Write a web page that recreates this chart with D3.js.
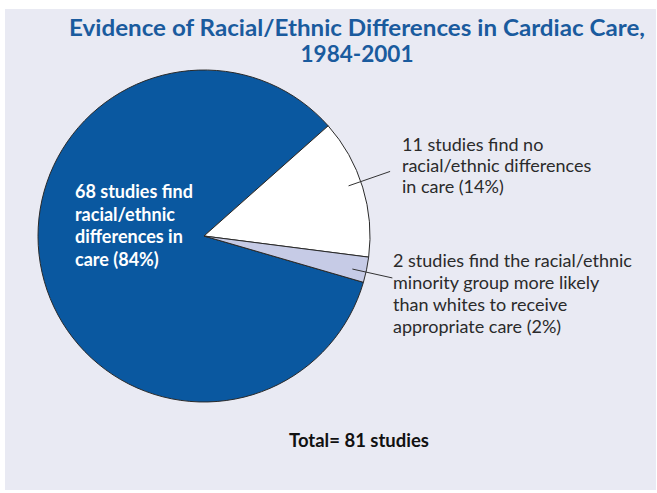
<!DOCTYPE html>
<html>
<head>
<meta charset="utf-8">
<script src="https://cdn.jsdelivr.net/npm/d3@7"></script>
<style>
  html, body { margin: 0; padding: 0; background: #ffffff; }
  svg { display: block; }
</style>
</head>
<body>
<svg id="chart" width="657" height="493"></svg>
<script>
// Study counts by finding (81 studies, 1984-2001)
const categories = ["differences", "noDifferences", "minorityMoreLikely"];
const studyCounts = [68, 11, 2];
const sliceColors = ["#0a58a0", "#ffffff", "#c6cbe6"];
const sliceLabels = [
  ["68 studies find", "racial/ethnic", "differences in", "care (84%)"],
  ["11 studies find no", "racial/ethnic differences", "in care (14%)"],
  ["2 studies find the racial/ethnic", "minority group more likely", "than whites to receive", "appropriate care (2%)"]
];
const titleLines = ["Evidence of Racial/Ethnic Differences in Cardiac Care,", "1984-2001"];
const totalLabel = "Total= 81 studies";

const svg = d3.select("#chart");

// background panel
svg.append("rect")
  .attr("x", 5).attr("y", 9)
  .attr("width", 651).attr("height", 481)
  .attr("fill", "#e9eaf3");

// condensed text: draw at natural size, then squeeze horizontally to a target width
function condensed(str, x, y, width, size, fill) {
  const grp = svg.append("g");
  const t = grp.append("text")
    .attr("text-anchor", "middle")
    .attr("font-family", "Lato, 'Open Sans', sans-serif")
    .attr("font-weight", "bold").attr("font-size", size)
    .attr("fill", fill)
    .text(str);
  const natural = t.node().getComputedTextLength();
  grp.attr("transform", `translate(${x},${y}) scale(${width / natural},1)`);
}

// title
condensed(titleLines[0], 357, 36, 576, 22, "#1a5b9e");
condensed(titleLines[1], 357, 62, 113, 22, "#1a5b9e");

// pie
const cx = 204, cy = 236, radius = 166;
const deg = Math.PI / 180;
const start = 106.2 * deg;
const pie = d3.pie().sort(null).startAngle(start).endAngle(start + 2 * Math.PI);
const arcs = pie(studyCounts);
const arc = d3.arc().innerRadius(0).outerRadius(radius);

const g = svg.append("g").attr("transform", `translate(${cx},${cy})`);
g.selectAll("path.slice")
  .data(arcs)
  .join("path")
  .attr("class", "slice")
  .attr("d", arc)
  .attr("fill", (d, i) => sliceColors[i])
  .attr("stroke", "#2a2a2a")
  .attr("stroke-width", 1)
  .attr("stroke-linejoin", "round");

// leader lines for the two small slices
function polar(angle, r) {
  return [Math.sin(angle) * r, -Math.cos(angle) * r];
}
const leaders = [
  { i: 1, offset: -2.0 * deg, r0: 153, r1: 197 },
  { i: 2, offset: 0.8 * deg, r0: 152, r1: 193 }
];
leaders.forEach(l => {
  const a = arcs[l.i];
  const mid = (a.startAngle + a.endAngle) / 2 + l.offset;
  const p0 = polar(mid, l.r0), p1 = polar(mid, l.r1);
  g.append("line")
    .attr("x1", p0[0]).attr("y1", p0[1])
    .attr("x2", p1[0]).attr("y2", p1[1])
    .attr("stroke", "#333")
    .attr("stroke-width", 1);
});

// slice labels
const labelFont = "Lato, 'Open Sans', sans-serif";
function block(lines, x, y0, step, opts) {
  const t = svg.append("text")
    .attr("font-family", labelFont)
    .attr("font-size", opts.size)
    .attr("font-weight", opts.weight)
    .attr("fill", opts.fill);
  lines.forEach((s, k) => {
    t.append("tspan").attr("x", x).attr("y", y0 + k * step).text(s);
  });
}
block(sliceLabels[0], 75, 198, 22.5, { size: 18, weight: "bold", fill: "#ffffff" });
block(sliceLabels[1], 402, 151, 21, { size: 18, weight: "normal", fill: "#2b2b2b" });
block(sliceLabels[2], 393, 267, 22, { size: 18, weight: "normal", fill: "#2b2b2b" });

// total
condensed(totalLabel, 359, 447, 140, 19, "#111");
</script>
</body>
</html>
